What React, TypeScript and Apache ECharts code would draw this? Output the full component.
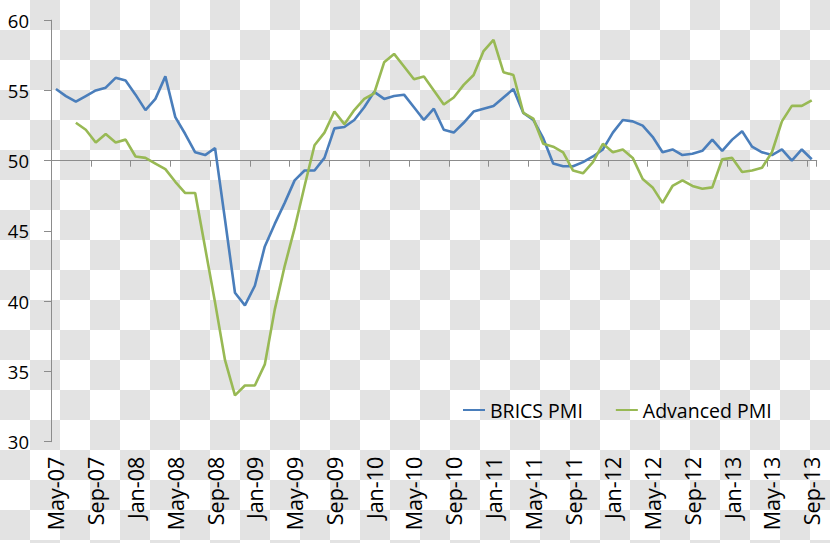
import React, { useEffect, useRef } from "react";
import * as echarts from "echarts";

const months = [
  "May-07", "Jun-07", "Jul-07", "Aug-07", "Sep-07", "Oct-07", "Nov-07", "Dec-07",
  "Jan-08", "Feb-08", "Mar-08", "Apr-08", "May-08", "Jun-08", "Jul-08", "Aug-08", "Sep-08", "Oct-08", "Nov-08", "Dec-08",
  "Jan-09", "Feb-09", "Mar-09", "Apr-09", "May-09", "Jun-09", "Jul-09", "Aug-09", "Sep-09", "Oct-09", "Nov-09", "Dec-09",
  "Jan-10", "Feb-10", "Mar-10", "Apr-10", "May-10", "Jun-10", "Jul-10", "Aug-10", "Sep-10", "Oct-10", "Nov-10", "Dec-10",
  "Jan-11", "Feb-11", "Mar-11", "Apr-11", "May-11", "Jun-11", "Jul-11", "Aug-11", "Sep-11", "Oct-11", "Nov-11", "Dec-11",
  "Jan-12", "Feb-12", "Mar-12", "Apr-12", "May-12", "Jun-12", "Jul-12", "Aug-12", "Sep-12", "Oct-12", "Nov-12", "Dec-12",
  "Jan-13", "Feb-13", "Mar-13", "Apr-13", "May-13", "Jun-13", "Jul-13", "Aug-13", "Sep-13",
];

const bricsPMI = [
  55.1, 54.6, 54.2, 54.6, 55.0, 55.2, 55.9, 55.7, 54.7, 53.6,
  54.4, 56.0, 53.1, 51.9, 50.6, 50.4, 50.9, 45.8, 40.6, 39.7,
  41.1, 43.9, 45.5, 47.0, 48.6, 49.3, 49.3, 50.2, 52.3, 52.4,
  52.9, 53.8, 54.9, 54.4, 54.6, 54.7, 53.8, 52.9, 53.7, 52.2,
  52.0, 52.7, 53.5, 53.7, 53.9, 54.5, 55.1, 53.4, 52.9, 51.6,
  49.8, 49.6, 49.6, 49.9, 50.3, 50.8, 52.0, 52.9, 52.8, 52.5,
  51.7, 50.6, 50.8, 50.4, 50.5, 50.7, 51.5, 50.7, 51.5, 52.1,
  51.0, 50.6, 50.4, 50.8, 50.0, 50.8, 50.1,
];

const advancedPMI = [
  null, null, 52.7, 52.2, 51.3, 51.9, 51.3, 51.5, 50.3, 50.2,
  49.8, 49.4, 48.5, 47.7, 47.7, 43.8, 39.9, 35.8, 33.3, 34.0,
  34.0, 35.5, 39.4, 42.5, 45.2, 48.2, 51.1, 52.0, 53.5, 52.6,
  53.6, 54.4, 54.8, 57.0, 57.6, 56.7, 55.8, 56.0, 55.0, 54.0,
  54.5, 55.4, 56.1, 57.8, 58.6, 56.3, 56.1, 53.4, 53.0, 51.2,
  51.0, 50.6, 49.3, 49.1, 49.9, 51.2, 50.6, 50.8, 50.2, 48.7,
  48.1, 47.0, 48.2, 48.6, 48.2, 48.0, 48.1, 50.1, 50.2, 49.2,
  49.3, 49.5, 50.6, 52.8, 53.9, 53.9, 54.3,
];

const seriesNames = ["BRICS PMI", "Advanced PMI"];
const FONT = "'Open Sans', 'Noto Sans', sans-serif";
const AXIS_GRAY = "#8c8c8c";

export default function App() {
  const ref = useRef<HTMLDivElement>(null);

  useEffect(() => {
    if (!ref.current) return;
    const chart = echarts.init(ref.current, undefined, { renderer: "svg" });
    chart.setOption({
      animation: false,
      backgroundColor: "transparent",
      textStyle: { fontFamily: FONT },
      grid: [
        { left: 51, right: 13.3, top: 20.2, bottom: 101.3 },
        { left: 51, right: 13.3, top: 20.2, height: 140.5 },
      ],
      legend: {
        data: seriesNames,
        left: 458,
        top: 395,
        icon: "rect",
        itemWidth: 22,
        itemHeight: 2,
        itemGap: 33,
        textStyle: { fontSize: 19.5, color: "#000", fontFamily: FONT },
      },
      xAxis: [
        {
          gridIndex: 0,
          type: "category",
          data: months,
          boundaryGap: true,
          axisLine: { show: false },
          axisTick: { show: false },
          axisLabel: {
            interval: 3,
            rotate: 90,
            fontSize: 21.5,
            margin: 15,
            color: "#000",
            fontFamily: FONT,
          },
        },
        {
          gridIndex: 1,
          type: "category",
          data: months,
          boundaryGap: true,
          position: "bottom",
          axisLine: { show: true, lineStyle: { color: AXIS_GRAY, width: 1 } },
          axisTick: { show: true, interval: 3, length: 6, lineStyle: { color: AXIS_GRAY, width: 1 } },
          axisLabel: { show: false },
        },
      ],
      yAxis: [
        {
          gridIndex: 0,
          type: "value",
          min: 30,
          max: 60,
          interval: 5,
          splitLine: { show: false },
          axisLine: { show: true, lineStyle: { color: AXIS_GRAY, width: 1 } },
          axisTick: { show: true, length: 7, lineStyle: { color: AXIS_GRAY, width: 1 } },
          axisLabel: { fontSize: 18.5, color: "#000", margin: 22, fontFamily: FONT },
        },
        {
          gridIndex: 1,
          type: "value",
          min: 50,
          max: 60,
          show: false,
        },
      ],
      series: [
        {
          name: seriesNames[0],
          type: "line",
          xAxisIndex: 0,
          yAxisIndex: 0,
          data: bricsPMI,
          showSymbol: false,
          symbol: "none",
          lineStyle: { color: "#4A7EBB", width: 2.6 },
          itemStyle: { color: "#4A7EBB" },
        },
        {
          name: seriesNames[1],
          type: "line",
          xAxisIndex: 0,
          yAxisIndex: 0,
          data: advancedPMI,
          showSymbol: false,
          symbol: "none",
          lineStyle: { color: "#98B954", width: 2.6 },
          itemStyle: { color: "#98B954" },
        },
      ],
    });
    return () => chart.dispose();
  }, []);

  return (
    <div
      style={{
        position: "absolute",
        left: 0,
        top: 0,
        width: 830,
        height: 543,
        backgroundColor: "#ffffff",
        backgroundImage: "repeating-conic-gradient(#e3e3e3 0 25%, #ffffff 0 50%)",
        backgroundSize: "60px 60px",
        backgroundPosition: "0 0",
      }}
    >
      <div ref={ref} style={{ width: 830, height: 543 }} />
    </div>
  );
}
